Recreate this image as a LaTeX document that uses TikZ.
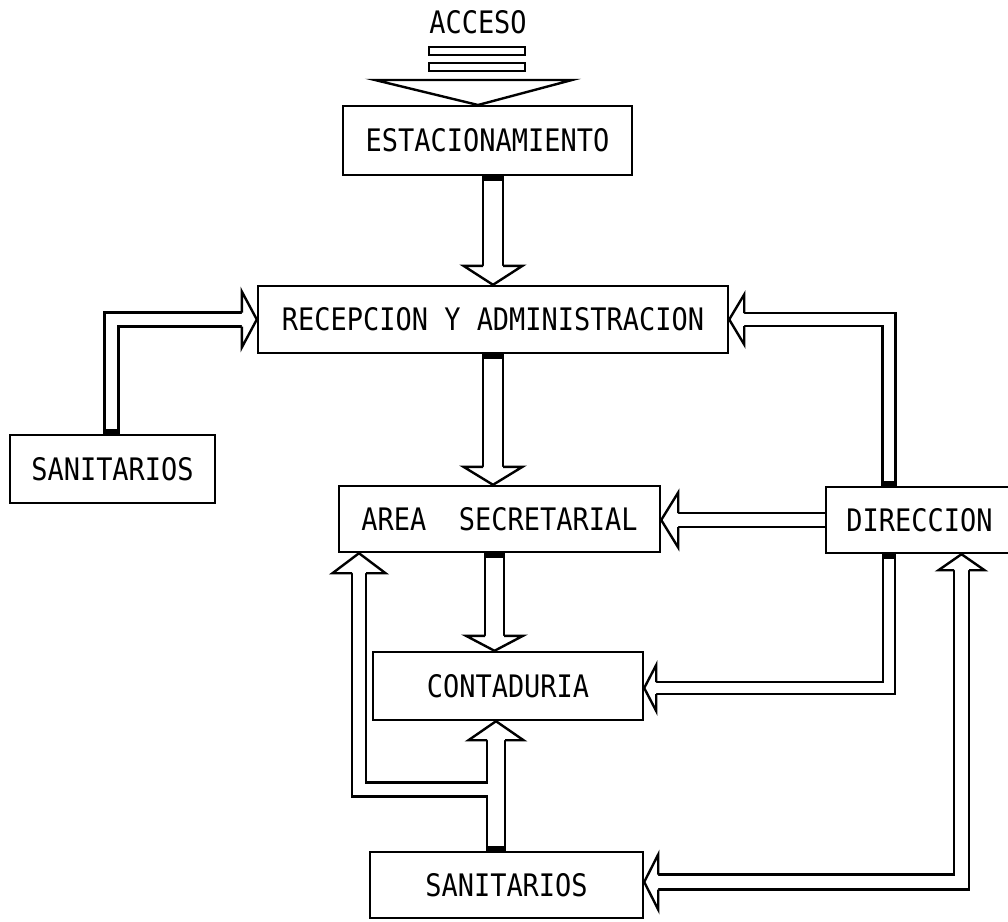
\documentclass[tikz,border=0pt]{standalone}
\usepackage{fontspec}
\usetikzlibrary{calc}
\newfontfamily\labelfont[FakeStretch=0.87]{DejaVu Sans Mono}

% open arrow head: apex, direction angle, length, half width, half shaft
\newcommand\ahead[5]{%
  \begin{scope}[shift={(#1)}, rotate=#2]
    \filldraw[headline] (-#3,-#5) -- (-#3,-#4) -- (0,0) -- (-#3,#4) -- (-#3,#5);
  \end{scope}}
% solid black end of a shaft where it leaves a box
\newcommand\stub[3]{\fill ($(#1)+(-#2,0)$) rectangle ++({2*#2},#3);}

\begin{document}
\begin{tikzpicture}[x=1pt,y=-1pt,
  lw/.style={line width=2.4pt},
  lbl/.style={inner sep=0pt, font=\labelfont\fontsize{31}{31}\selectfont},
  box/.style={draw, line width=2.4pt, inner sep=0pt, font=\labelfont\fontsize{31}{31}\selectfont},
  flow/.style={draw, line width=2.4pt, double=white, double distance=#1, line join=miter},
  headline/.style={fill=white, draw=black, line width=2.4pt, line join=miter}]
\useasboundingbox (0,0) rectangle (1008,921);

% entrance
\node[lbl] (acc) at (478,22) {ACCESO};
\draw[line width=2pt] (429,47) rectangle (525,55);
\draw[line width=2pt] (429,63) rectangle (525,71);
\draw[lw, line join=miter] (375,80) -- (572,80) -- (478,105) -- cycle;

% rooms
\node[box, minimum width=289pt, minimum height=69pt] (est)  at (487.5,140.5) {ESTACIONAMIENTO};
\node[box, minimum width=470pt, minimum height=67pt] (rec)  at (493,319.5) {RECEPCION Y ADMINISTRACION};
\node[box, minimum width=205pt, minimum height=68pt] (sanl) at (112.5,469) {SANITARIOS};
\node[box, minimum width=321pt, minimum height=66pt] (area) at (499.5,519) {AREA~~SECRETARIAL};
\node[box, minimum width=187pt, minimum height=66pt] (dir)  at (919.5,520) {DIRECCION};
\node[box, minimum width=270pt, minimum height=68pt] (cont) at (508,686) {CONTADURIA};
\node[box, minimum width=273pt, minimum height=66pt] (sanb) at (506.5,885) {SANITARIOS};

% estacionamiento -> recepcion
\coordinate (s1) at (est.south -| rec.north);
\draw[flow=17.6pt] (s1) -- ($(rec.north)+(0,-19)$);
\ahead{rec.north}{-90}{19}{29.5}{10}
\stub{s1}{11.2}{5}

% recepcion -> area secretarial
\coordinate (h2) at (rec.south |- area.north);
\draw[flow=17.6pt] (rec.south) -- ($(h2)+(0,-18)$);
\ahead{h2}{-90}{18}{29.5}{10}
\stub{rec.south}{11.2}{5}

% area secretarial -> contaduria
\coordinate (x3) at (494.5,0);
\coordinate (s3) at (area.south -| x3);
\coordinate (h3) at (cont.north -| x3);
\draw[flow=16.6pt] (s3) -- ($(h3)+(0,-15)$);
\ahead{h3}{-90}{15}{28.5}{9.5}
\stub{s3}{10.7}{5}

% sanitarios -> area secretarial (branch) and -> contaduria
\coordinate (x4) at (496,0);
\coordinate (s4) at (sanb.north -| x4);
\coordinate (h4) at (cont.south -| x4);
\coordinate (x5) at (359,0);
\coordinate (y5) at (0,789.5);
\coordinate (h5) at (area.south -| x5);
\draw[flow=11.6pt] (x4 |- y5) -- (x5 |- y5) -- ($(h5)+(0,20)$);
\ahead{h5}{90}{20}{26.5}{7}
\draw[flow=15.6pt] (s4) -- ($(h4)+(0,19)$);
\ahead{h4}{90}{19}{27.5}{9}
\fill[white] ($(x4 |- y5)+(-10.3,-5.8)$) rectangle ($(x4 |- y5)+(-7.7,5.8)$);
\stub{s4}{10.2}{-5}

% sanitarios -> recepcion
\coordinate (x6) at (111.5,0);
\coordinate (s6) at (sanl.north -| x6);
\draw[flow=11.6pt] (s6) -- (x6 |- rec.west) -- ($(rec.west)+(-15,0)$);
\ahead{rec.west}{0}{15}{28}{7}
\stub{s6}{8.2}{-5}

% direccion -> recepcion
\coordinate (x7) at (889,0);
\coordinate (s7) at (dir.north -| x7);
\draw[flow=10.6pt] (s7) -- (x7 |- rec.east) -- ($(rec.east)+(15,0)$);
\ahead{rec.east}{180}{15}{25}{6.5}
\stub{s7}{7.7}{-5}

% direccion -> area secretarial
\coordinate (h8) at (area.east |- dir.west);
\draw[flow=11.6pt] (dir.west) -- ($(h8)+(17,0)$);
\ahead{h8}{180}{17}{27.5}{7}

% direccion -> contaduria
\coordinate (y9) at (0,688);
\coordinate (s9) at (dir.south -| x7);
\coordinate (h9) at (cont.east |- y9);
\draw[flow=9.6pt] (s9) -- (x7 |- y9) -- ($(h9)+(12,0)$);
\ahead{h9}{180}{12}{23}{6}
\stub{s9}{7.2}{5}

% direccion <-> sanitarios
\coordinate (x10) at (961.5,0);
\coordinate (y10) at (0,882);
\coordinate (h10a) at (dir.south -| x10);
\coordinate (h10b) at (sanb.east |- y10);
\draw[flow=12.6pt] ($(h10a)+(0,16)$) -- (x10 |- y10) -- ($(h10b)+(14,0)$);
\ahead{h10a}{90}{16}{23}{7.5}
\ahead{h10b}{180}{14}{27.5}{7.5}
\end{tikzpicture}
\end{document}
